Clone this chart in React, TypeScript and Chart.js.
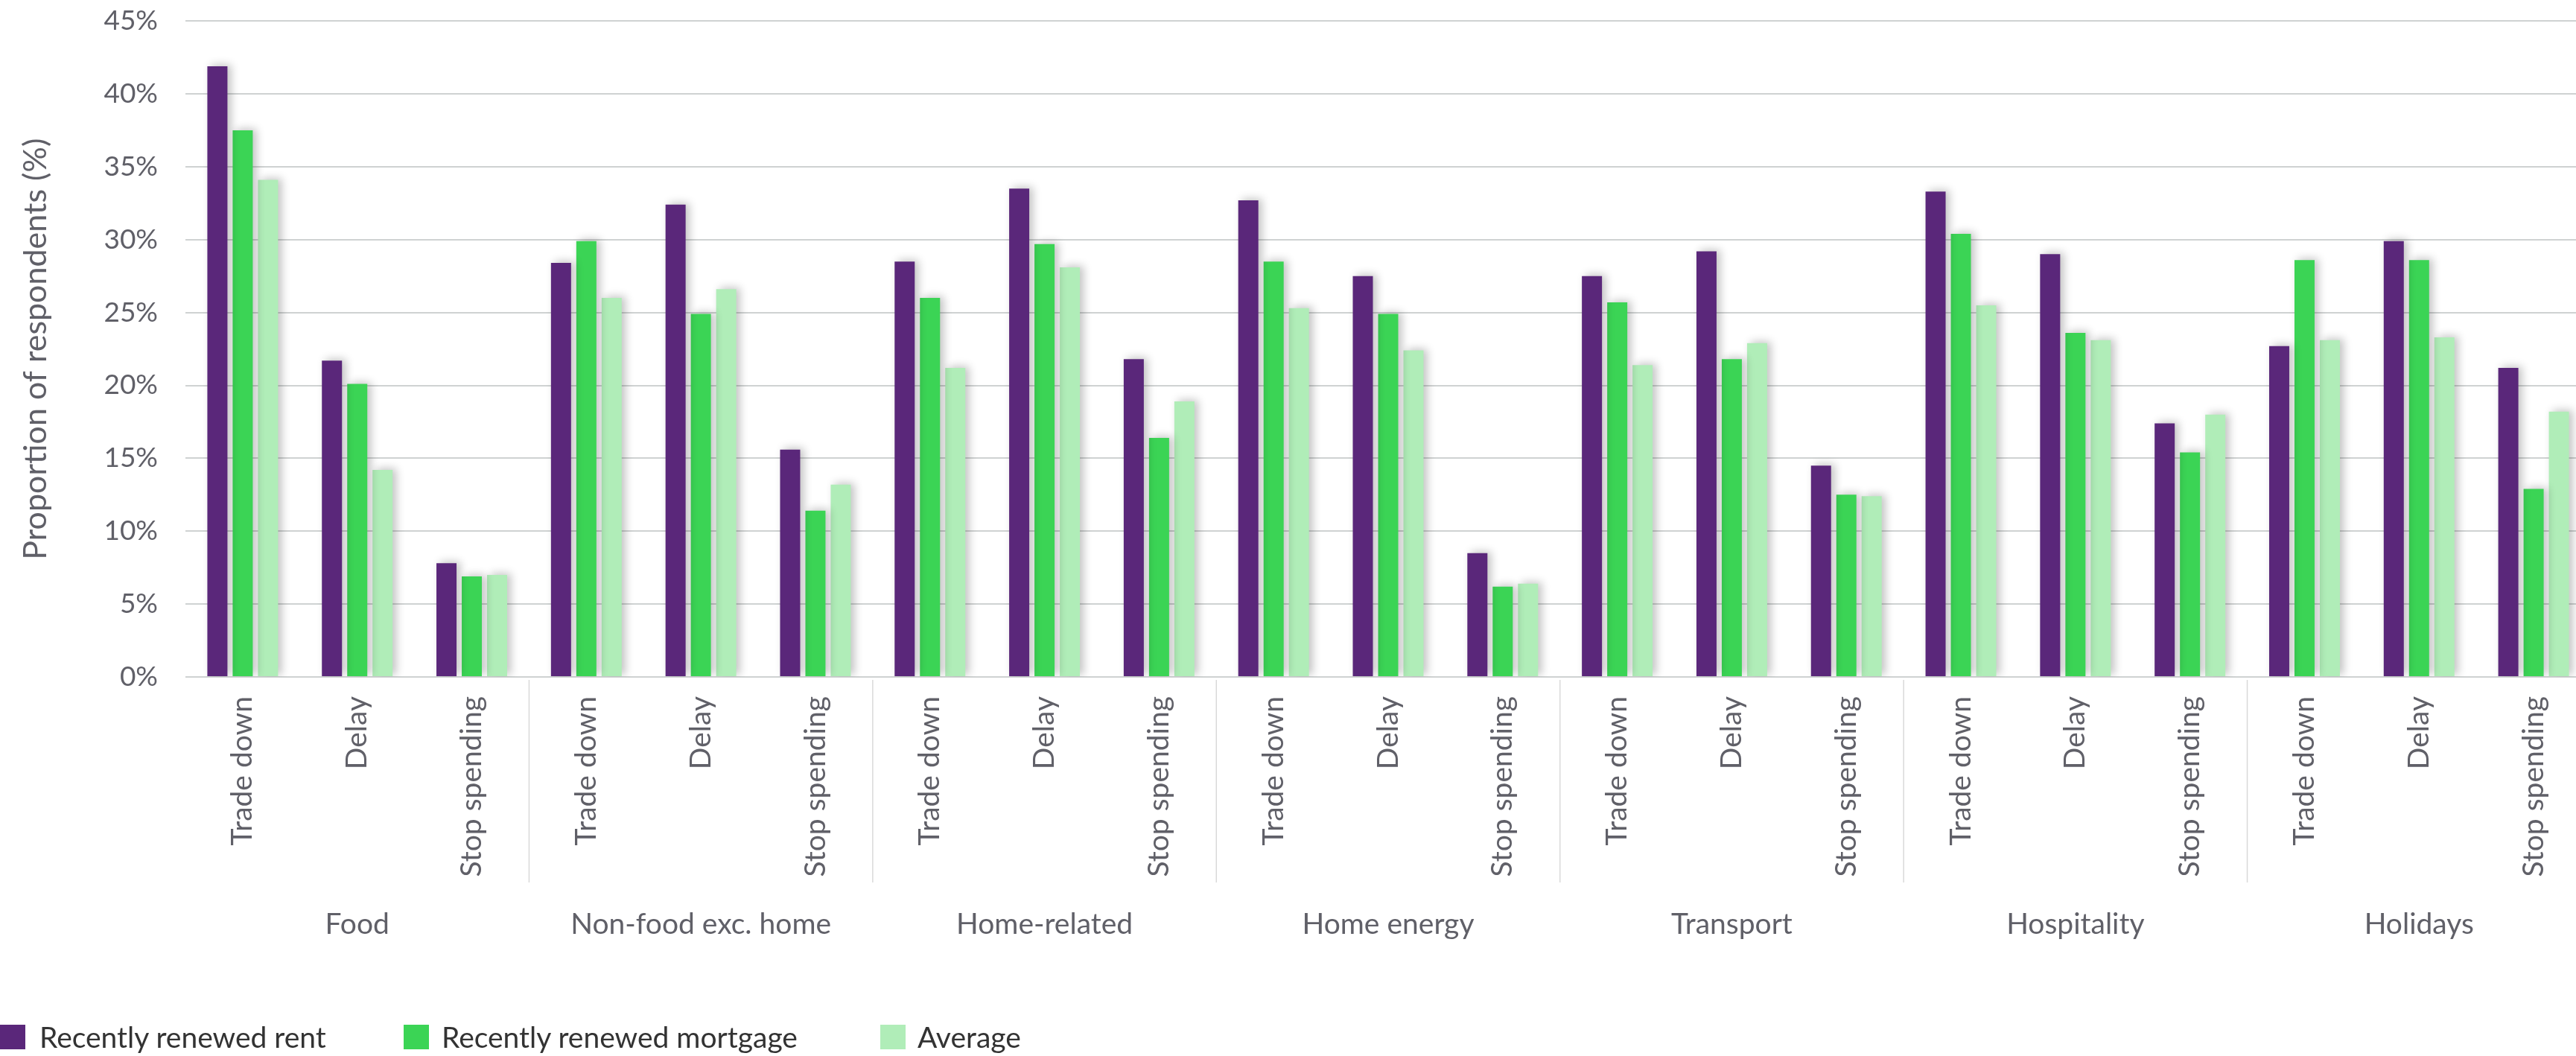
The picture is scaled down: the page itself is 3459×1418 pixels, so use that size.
import React, { useEffect, useRef } from 'react';
import { Chart, registerables } from 'chart.js';

Chart.register(...registerables);

const groups = ['Food', 'Non-food exc. home', 'Home-related', 'Home energy', 'Transport', 'Hospitality', 'Holidays'];
const actions = ['Trade down', 'Delay', 'Stop spending'];
const categories = groups.flatMap(() => actions);

const seriesNames = ['Recently renewed rent', 'Recently renewed mortgage', 'Average'];
const rentValues = [41.9, 21.7, 7.8, 28.4, 32.4, 15.6, 28.5, 33.5, 21.8, 32.7, 27.5, 8.5, 27.5, 29.2, 14.5, 33.3, 29.0, 17.4, 22.7, 29.9, 21.2];
const mortgageValues = [37.5, 20.1, 6.9, 29.9, 24.9, 11.4, 26.0, 29.7, 16.4, 28.5, 24.9, 6.2, 25.7, 21.8, 12.5, 30.4, 23.6, 15.4, 28.6, 28.6, 12.9];
const averageValues = [34.1, 14.2, 7.0, 26.0, 26.6, 13.2, 21.2, 28.1, 18.9, 25.3, 22.4, 6.4, 21.4, 22.9, 12.4, 25.5, 23.1, 18.0, 23.1, 23.3, 18.2];

const yMin = 0;
const yMax = 45;
const yStep = 5;
const yTitle = 'Proportion of respondents (%)';

const seriesColors = ['#5a277a', '#3bd455', '#b0edb8'];
const textGrey = '#606068';
const FONT = 'Lato, "Open Sans", sans-serif';

const CANVAS_SHIFT = 31;

const barShadow = {
  id: 'barShadow',
  beforeDatasetsDraw(chart: any) {
    const c = chart.ctx;
    c.save();
    c.shadowColor = 'rgba(0,0,0,0.24)';
    c.shadowBlur = 12;
    c.shadowOffsetX = 5;
    c.shadowOffsetY = -2;
  },
  afterDatasetsDraw(chart: any) {
    chart.ctx.restore();
  },
};

const groupSeparators = {
  id: 'groupSeparators',
  afterDraw(chart: any) {
    const x = chart.scales.x;
    const c = chart.ctx;
    c.save();
    c.strokeStyle = '#d9d9d9';
    c.lineWidth = 1.5;
    for (let g = 1; g < groups.length; g++) {
      const px = (x.getPixelForValue(g * actions.length - 1) + x.getPixelForValue(g * actions.length)) / 2;
      c.beginPath();
      c.moveTo(px, x.top + 4);
      c.lineTo(px, x.bottom - 14);
      c.stroke();
    }
    c.restore();
  },
};

export default function App() {
  const ref = useRef<HTMLCanvasElement | null>(null);

  useEffect(() => {
    if (!ref.current) return;
    const values = [rentValues, mortgageValues, averageValues];
    const chart = new Chart(ref.current, {
      type: 'bar',
      data: {
        labels: categories,
        datasets: values.map((v, i) => ({
          label: seriesNames[i],
          data: v,
          backgroundColor: seriesColors[i],
          borderWidth: 0,
          categoryPercentage: 0.663,
          barPercentage: 0.794,
          xAxisID: 'x',
          yAxisID: 'y',
        })),
      },
      options: {
        responsive: false,
        animation: false,
        devicePixelRatio: 1,
        layout: { padding: { top: 0, right: 1, bottom: 0, left: 0 } },
        plugins: {
          legend: { display: false },
          tooltip: { enabled: false },
        },
        scales: {
          x: {
            type: 'category',
            position: 'bottom',
            weight: 0,
            offset: true,
            grid: { display: false },
            border: { display: false },
            ticks: {
              autoSkip: false,
              maxRotation: 90,
              minRotation: 90,
              padding: 18,
              color: textGrey,
              font: { family: FONT, size: 39 },
            },
            afterFit: (s: any) => { s.height = 290; },
          },
          x2: {
            type: 'category',
            labels: groups,
            position: 'bottom',
            weight: 1,
            offset: true,
            grid: { display: false },
            border: { display: false },
            ticks: {
              autoSkip: false,
              maxRotation: 0,
              minRotation: 0,
              padding: 11,
              color: textGrey,
              font: { family: FONT, size: 39 },
            },
            afterFit: (s: any) => { s.height = 219; },
          },
          y: {
            min: yMin,
            max: yMax,
            grid: { color: '#cfd2d2', lineWidth: 2, drawTicks: false },
            border: { display: false },
            ticks: {
              stepSize: yStep,
              padding: 37,
              color: textGrey,
              font: { family: FONT, size: 37 },
              callback: (v: any) => `${v}%`,
            },
            title: {
              display: true,
              text: yTitle,
              color: textGrey,
              font: { family: FONT, size: 43 },
              padding: { top: 22, bottom: 0 },
            },
            afterFit: (s: any) => { s.width = 249; },
          },
        },
      },
      plugins: [barShadow, groupSeparators],
    });
    return () => chart.destroy();
  }, []);

  const legendBoxLeft = [0, 542, 1182];
  const legendTextLeft = [53, 593, 1232];

  return (
    <div style={{ position: 'fixed', left: 0, top: 0, width: 3459, height: 1418, overflow: 'hidden', background: '#ffffff' }}>
      <canvas ref={ref} width={3480} height={1418 + CANVAS_SHIFT} style={{ position: 'absolute', left: 0, top: -CANVAS_SHIFT, width: 3480, height: 1418 + CANVAS_SHIFT }} />
      {seriesNames.map((name, i) => (
        <React.Fragment key={name}>
          <div style={{ position: 'absolute', left: legendBoxLeft[i], top: 1376, width: 34, height: 33, background: seriesColors[i] }} />
          <div style={{ position: 'absolute', left: legendTextLeft[i], top: 1372, fontFamily: FONT, fontSize: 39, lineHeight: '40px', color: '#333333', whiteSpace: 'nowrap' }}>{name}</div>
        </React.Fragment>
      ))}
    </div>
  );
}
